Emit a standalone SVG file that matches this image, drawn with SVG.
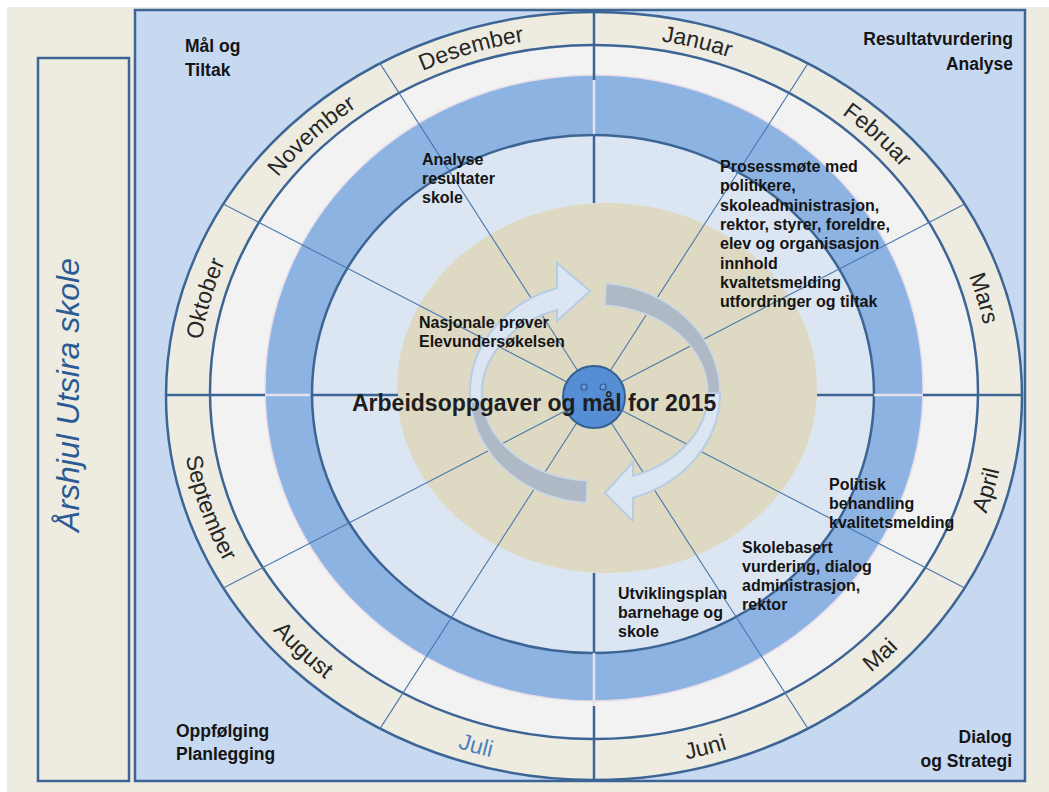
<svg xmlns="http://www.w3.org/2000/svg" width="1049" height="792" viewBox="0 0 1049 792">
<style>
.ring{stroke:#3C6595;stroke-width:2.5}
.q{stroke:#3C6595;stroke-width:2.5;fill:none}
.gap{stroke:#E4E0EE;stroke-width:2.5;fill:none}
.div{stroke:#4A78AE;stroke-width:1.1;fill:none}
.mon{font-family:"Liberation Sans",Arial,sans-serif;font-size:23px;fill:#262626}
.lbl{font-family:"Liberation Sans",Arial,sans-serif;font-weight:bold;font-size:16px;fill:#141414}
.cor{font-family:"Liberation Sans",Arial,sans-serif;font-weight:bold;font-size:17.5px;fill:#141414}
.arrL{fill:#DCE6F2;stroke:#B8CCE4;stroke-width:2}
.arrG{fill:#AFB9C5;stroke:#C8D7E9;stroke-width:1.5}
</style>
<defs>
<path id="pDes" d="M349.6,111.9 A397,358 0 0 1 607.9,36.2"/>
<path id="pJan" d="M559.4,37.4 A397,358 0 0 1 821.7,100.7"/>
<path id="pFeb" d="M761.8,69.5 A397,358 0 0 1 953.8,242.7"/>
<path id="pMar" d="M919.2,188.7 A397,358 0 0 1 989.5,425.2"/>
<path id="pOkt" d="M198.5,425.2 A397,358 0 0 1 268.8,188.7"/>
<path id="pNov" d="M234.2,242.7 A397,358 0 0 1 426.2,69.5"/>
<path id="pApr" d="M933.1,609.1 A414,375 0 0 0 1006.4,361.3"/>
<path id="pMai" d="M769,733.9 A414,375 0 0 0 969.2,552.5"/>
<path id="pJun" d="M565.1,768.1 A414,375 0 0 0 837.3,697.4"/>
<path id="pJul" d="M344.9,693.5 A414,375 0 0 0 615.7,768.5"/>
<path id="pAug" d="M215.8,546.5 A414,375 0 0 0 412.5,731.1"/>
<path id="pSep" d="M180.3,380.9 A414,375 0 0 0 267.8,624.9"/>
</defs>
<rect x="0" y="0" width="1049" height="792" fill="#FFFFFF"/>
<rect x="7" y="7" width="1042" height="785" fill="#EEECE1"/>
<g id="title-box">
<rect x="38" y="58" width="91" height="723" fill="#EEECE1" stroke="#3C6595" stroke-width="2.5"/>
<text transform="translate(79,395) rotate(-90)" text-anchor="middle" font-family="Liberation Sans, Arial, sans-serif" font-style="italic" font-size="32" fill="#2B5A94">Årshjul Utsira skole</text>
</g>
<g id="wheel">
<rect x="135" y="10" width="890" height="771" fill="#C6D9F1" stroke="#3C6595" stroke-width="2.5"/>
<ellipse cx="594" cy="396" rx="428" ry="384" fill="#EEECE1" class="ring"/>
<ellipse cx="594" cy="392" rx="384" ry="347" fill="#F2F2F2" class="ring"/>
<ellipse cx="594" cy="388" rx="329" ry="313" fill="#8DB3E2" stroke="#E6DCEA" stroke-width="1.5"/>
<ellipse cx="593" cy="394" rx="281" ry="259" fill="#DCE6F2" class="ring"/>
<ellipse cx="607" cy="388" rx="210" ry="185" fill="#DDD9C3"/>
</g>
<g id="connectors">
<path class="q" d="M594,12 V80 M594,135 V203 M594,573 V652 M594,706 V780 M166,395 H265 M311,395 H398 M817,395 H873 M923,395 H1022"/>
<path class="gap" d="M594,80 V134 M594,653 V705 M266,395 H310 M874,395 H922"/>
<path class="div" d="M594,396 L964.7,204 M594,396 L808,63.4 M594,396 L380,63.4 M594,396 L223.3,204 M594,396 L223.3,588 M594,396 L380,728.6 M594,396 L808,728.6 M594,396 L964.7,588"/>
</g>
<g id="cycle-arrows">
<path class="arrG" d="M470.5,402.6 A125,110 0 0 0 586.3,502.7 L587.1,480.8 A113,88 0 0 1 482.4,400.7 Z"/>
<path class="arrL" d="M470.5,402.6 A125,110 0 0 1 557,288 L557,263 L590,291 L557,321 L557,310 A113,88 0 0 0 482.4,400.7 Z"/>
<path class="arrG" d="M605.9,283.4 A125,110 0 0 1 720,393 L708,393 A113,88 0 0 0 604.9,305.3 Z"/>
<path class="arrL" d="M720,393 A125,110 0 0 1 633,497.8 L633,521 L605,493 L633,462 L633,475.9 A113,88 0 0 0 708,393 Z"/>
</g>
<g id="center">
<circle cx="594" cy="397" r="31" fill="#558ED5" stroke="#35608F" stroke-width="2"/>
<circle cx="584" cy="387" r="3" fill="#6A9BD8" stroke="#2F5A8A" stroke-width="1.2"/>
<circle cx="603" cy="387" r="3" fill="#6A9BD8" stroke="#2F5A8A" stroke-width="1.2"/>
<text x="352" y="411" font-family="Liberation Sans, Arial, sans-serif" font-weight="bold" font-size="23" fill="#1E1E1E">Arbeidsoppgaver og mål for 2015</text>
</g>
<g id="months" class="mon">
<text class="mon"><textPath href="#pJan" startOffset="50%" text-anchor="middle">Januar</textPath></text>
<text class="mon"><textPath href="#pFeb" startOffset="50%" text-anchor="middle">Februar</textPath></text>
<text class="mon"><textPath href="#pMar" startOffset="50%" text-anchor="middle">Mars</textPath></text>
<text class="mon"><textPath href="#pApr" startOffset="50%" text-anchor="middle">April</textPath></text>
<text class="mon"><textPath href="#pMai" startOffset="50%" text-anchor="middle">Mai</textPath></text>
<text class="mon"><textPath href="#pJun" startOffset="50%" text-anchor="middle">Juni</textPath></text>
<text class="mon" style="fill:#4F81BD"><textPath href="#pJul" startOffset="50%" text-anchor="middle">Juli</textPath></text>
<text class="mon"><textPath href="#pAug" startOffset="50%" text-anchor="middle">August</textPath></text>
<text class="mon"><textPath href="#pSep" startOffset="50%" text-anchor="middle">September</textPath></text>
<text class="mon"><textPath href="#pOkt" startOffset="50%" text-anchor="middle">Oktober</textPath></text>
<text class="mon"><textPath href="#pNov" startOffset="50%" text-anchor="middle">November</textPath></text>
<text class="mon"><textPath href="#pDes" startOffset="50%" text-anchor="middle">Desember</textPath></text>
</g>
<g id="corner-mal">
<text class="cor" x="185" y="52">Mål og</text>
<text class="cor" x="185" y="76">Tiltak</text>
</g>
<g id="corner-resultat">
<text class="cor" x="1013" y="45" text-anchor="end">Resultatvurdering</text>
<text class="cor" x="1013" y="70" text-anchor="end">Analyse</text>
</g>
<g id="corner-oppfolging">
<text class="cor" x="176" y="737">Oppfølging</text>
<text class="cor" x="176" y="760">Planlegging</text>
</g>
<g id="corner-dialog">
<text class="cor" x="1012" y="743" text-anchor="end">Dialog</text>
<text class="cor" x="1012" y="767" text-anchor="end">og Strategi</text>
</g>
<g id="task-analyse">
<text class="lbl" x="422" y="165">Analyse</text>
<text class="lbl" x="422" y="184">resultater</text>
<text class="lbl" x="422" y="203">skole</text>
</g>
<g id="task-prosess">
<text class="lbl" x="720" y="172">Prosessmøte med</text>
<text class="lbl" x="720" y="191.3">politikere,</text>
<text class="lbl" x="720" y="210.6">skoleadministrasjon,</text>
<text class="lbl" x="720" y="229.9">rektor, styrer, foreldre,</text>
<text class="lbl" x="720" y="249.2">elev og organisasjon</text>
<text class="lbl" x="720" y="268.5">innhold</text>
<text class="lbl" x="720" y="287.8">kvaltetsmelding</text>
<text class="lbl" x="720" y="307.1">utfordringer og tiltak</text>
</g>
<g id="task-nasjonale">
<text class="lbl" x="419" y="328">Nasjonale prøver</text>
<text class="lbl" x="419" y="347">Elevundersøkelsen</text>
</g>
<g id="task-politisk">
<text class="lbl" x="829" y="490">Politisk</text>
<text class="lbl" x="829" y="509">behandling</text>
<text class="lbl" x="829" y="528">kvalitetsmelding</text>
</g>
<g id="task-skolebasert">
<text class="lbl" x="742" y="553">Skolebasert</text>
<text class="lbl" x="742" y="572">vurdering, dialog</text>
<text class="lbl" x="742" y="591">administrasjon,</text>
<text class="lbl" x="742" y="610">rektor</text>
</g>
<g id="task-utvikling">
<text class="lbl" x="618" y="599">Utviklingsplan</text>
<text class="lbl" x="618" y="618">barnehage og</text>
<text class="lbl" x="618" y="637">skole</text>
</g>
</svg>
